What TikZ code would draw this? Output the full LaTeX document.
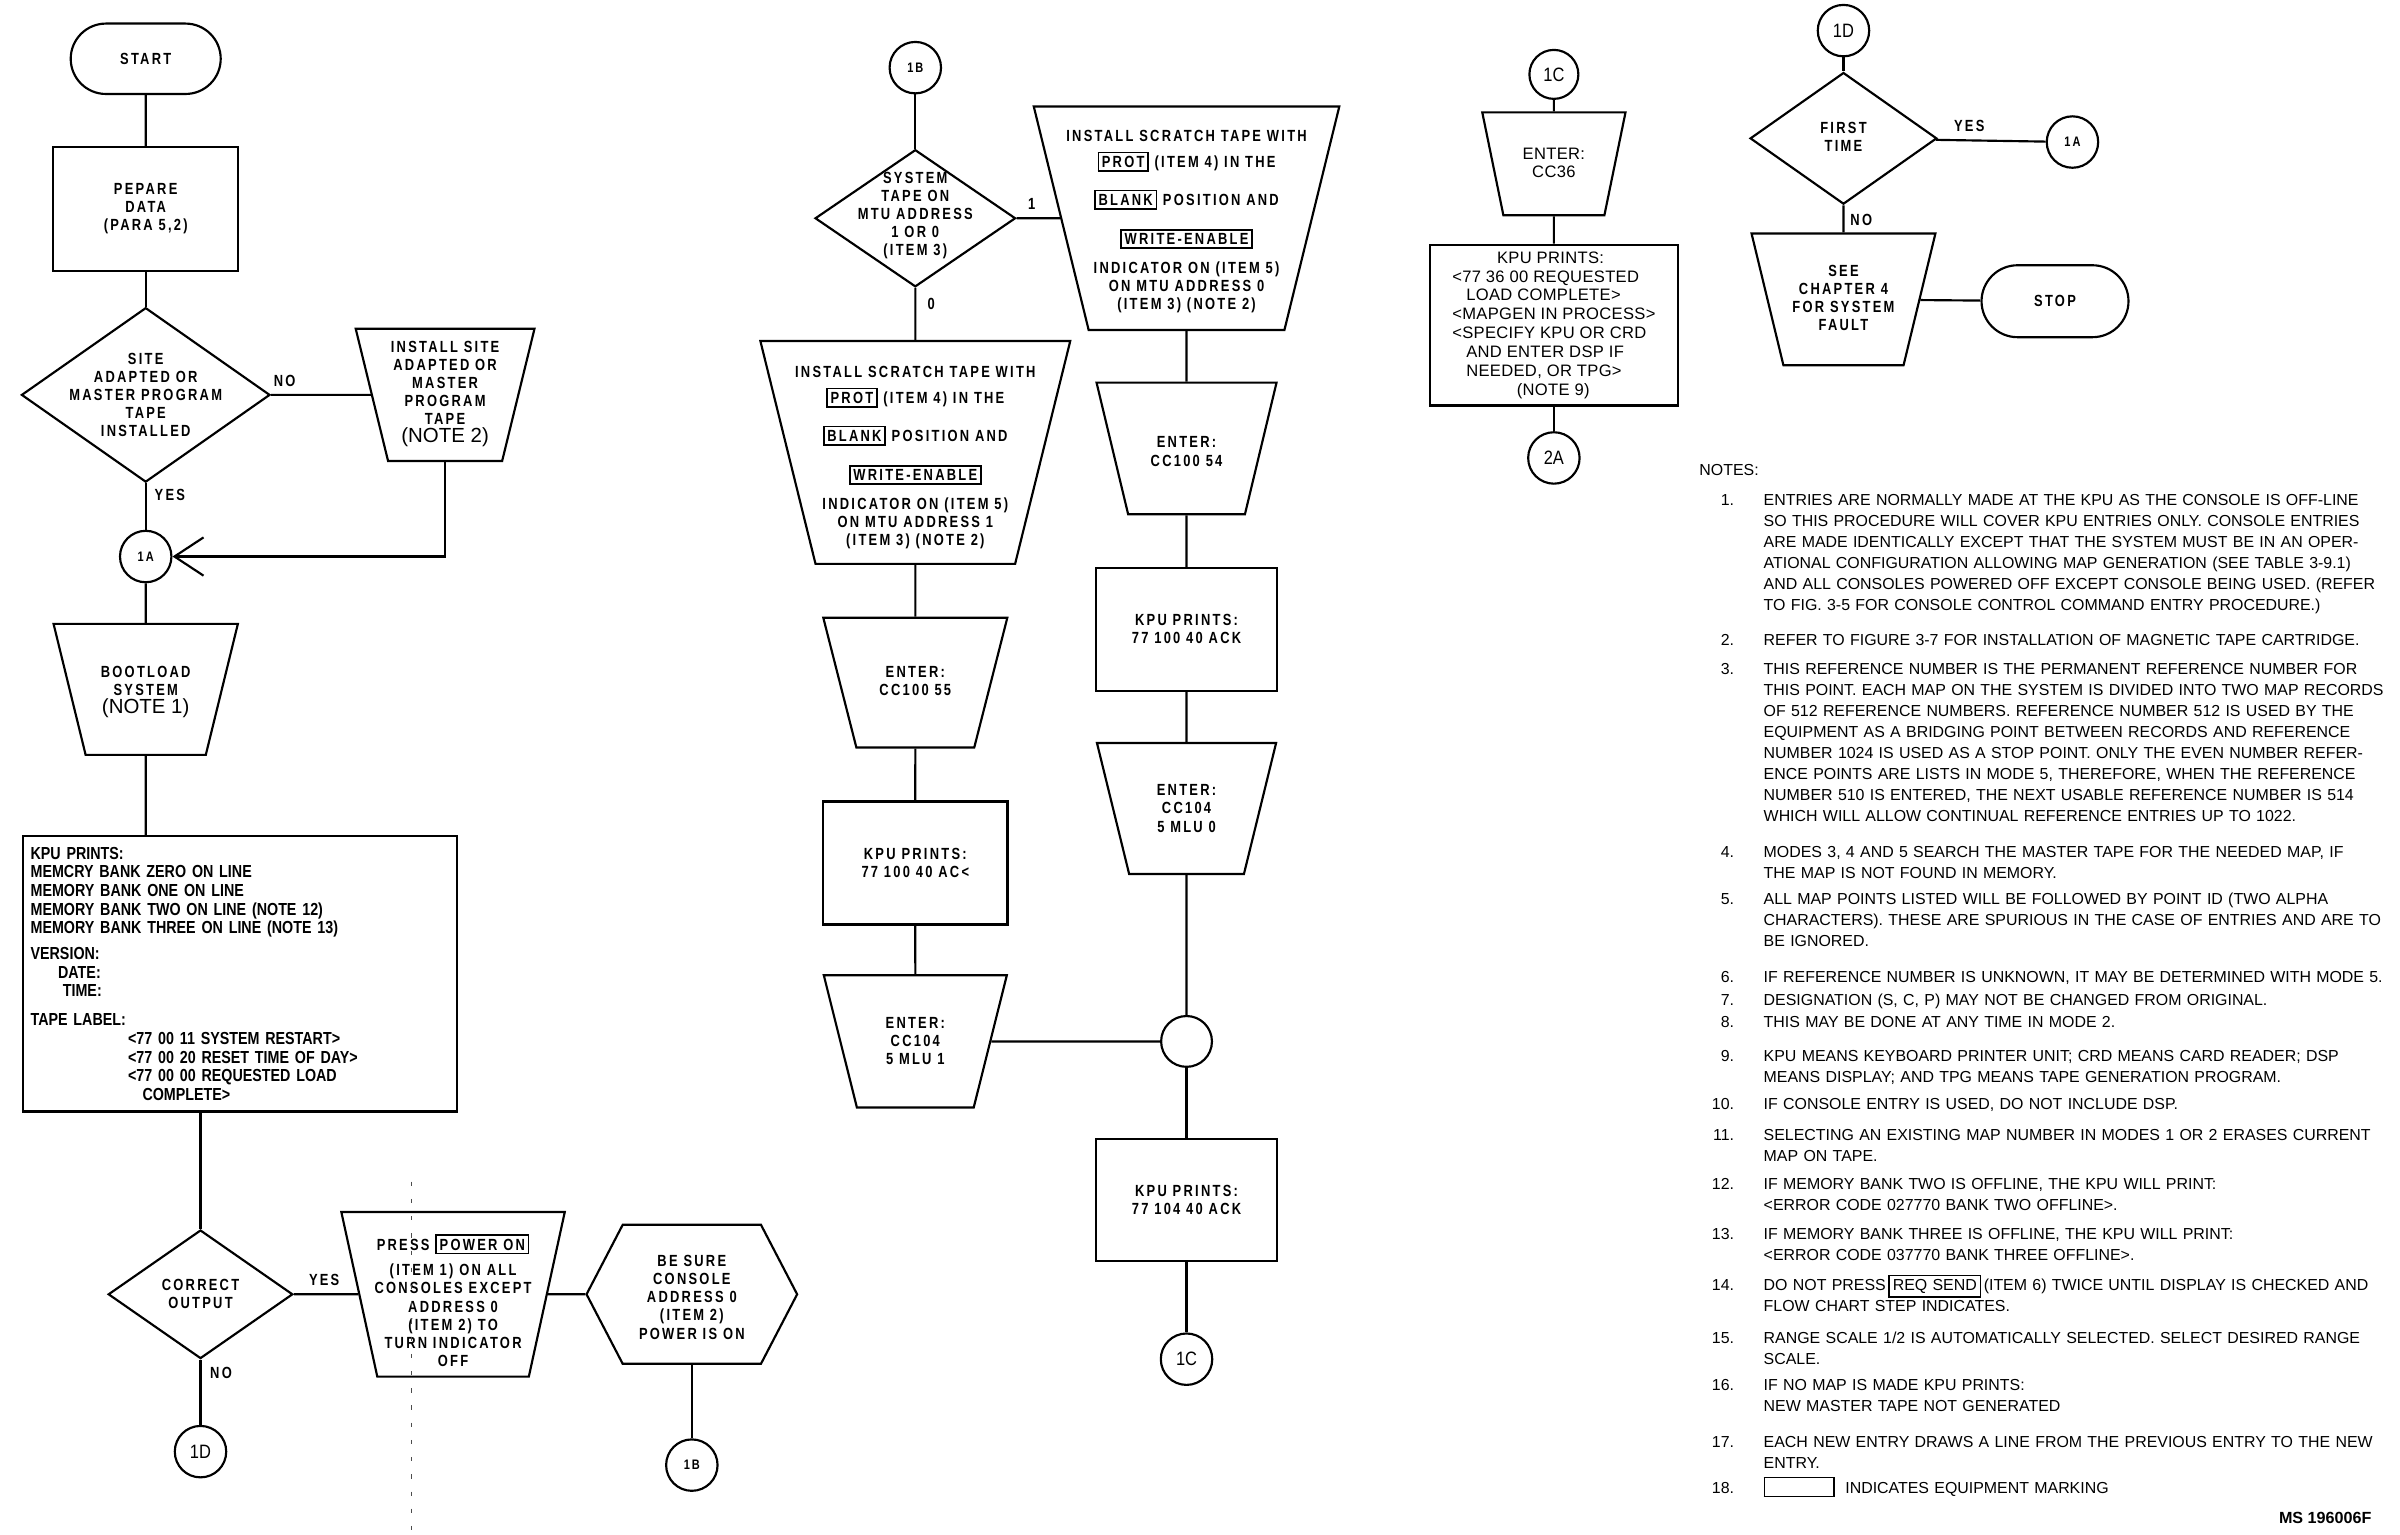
\documentclass[tikz,border=0pt]{standalone}
\usepackage{fontspec}
\setmainfont{Liberation Sans}
\newfontfamily\stencilfont[FakeStretch=0.8,LetterSpace=14]{Liberation Sans}
\newfontfamily\printfont[FakeStretch=0.82]{Liberation Sans}
\newfontfamily\platefont[FakeStretch=0.85]{Liberation Sans}
\newfontfamily\boxfont[LetterSpace=2]{Liberation Sans}
\usetikzlibrary{arrows.meta, positioning, shapes.geometric, shapes.misc, shapes.symbols}
\newcommand{\eqbox}[1]{{\setlength{\fboxsep}{1.3pt}\setlength{\fboxrule}{0.7pt}\fbox{#1}}}
\tikzset{
  chartline/.style={line width=1pt, black},
  chartarrow/.style={chartline, -{Straight Barb[length=4.75mm, width=6.25mm]}},
  crease/.style={line width=0.4pt, black!70, dash pattern=on 2pt off 6pt},
  termbox/.style={rounded rectangle, draw, line width=1pt, inner sep=0pt},
  procbox/.style={rectangle, draw, line width=1pt, inner sep=0pt},
  manbox/.style={trapezium, shape border rotate=180, draw, line width=1pt, inner sep=0pt,
    text depth=0pt},
  decbox/.style={diamond, draw, line width=1pt, inner sep=0pt},
  hexbox/.style={signal, signal to=east and west, draw, line width=1pt, inner sep=0pt},
  connbox/.style={circle, draw, line width=1pt, inner sep=0pt, minimum size=8.4mm},
  chart/.style={font=\stencilfont\bfseries\fontsize{7.5}{8.4}\selectfont, align=center, inner sep=0pt},
  tagtext/.style={font=\stencilfont\bfseries\fontsize{6.4}{7.5}\selectfont, inner sep=0pt},
  platetext/.style={font=\platefont\fontsize{9}{10}\selectfont, inner sep=0pt},
  printtext/.style={font=\printfont\bfseries\fontsize{8.1}{8.68}\selectfont, align=left},
  boxtext/.style={font=\boxfont\fontsize{7.7}{8.75}\selectfont, align=left},
  notehead/.style={font=\fontsize{7.4}{9.75}\selectfont, anchor=base west, inner sep=0pt},
  notenum/.style={font=\fontsize{7.4}{9.75}\selectfont, anchor=base east, inner sep=0pt},
  notetext/.style={font=\fontsize{7.4}{9.75}\selectfont, anchor=base west, inner sep=0pt,
    align=left, text width=12cm},
}
\newcommand{\notebig}{\normalfont\fontsize{9.5}{10}\selectfont}

\begin{document}
\begin{tikzpicture}
  \useasboundingbox (0,0) rectangle (39.2,-25.06);

  \node[termbox, chart, minimum width=2.45cm, minimum height=1.15cm] (start) at (2.38,-0.96) {START};
  \node[procbox, chart, minimum width=3.015cm, minimum height=2.02cm] (prep) at (2.38,-3.41) {PEPARE\\DATA\\(PARA 5,2)};
  \node[decbox, minimum width=4.06cm, minimum height=2.85cm] (site) at (2.38,-6.45) {};
  \node[chart] (sitetxt) at (site) {SITE\\ADAPTED OR\\MASTER PROGRAM\\TAPE\\INSTALLED};
  \node[manbox, trapezium angle=76.25, text width=1.863cm, text height=2.16cm] (inst) at (7.27,-6.45) {};
  \node[chart] (insttxt) at (7.27,-6.44) {INSTALL SITE\\ADAPTED OR\\MASTER\\PROGRAM\\TAPE\\{\notebig (NOTE 2)}};
  \node[connbox, tagtext] (a1) at (2.38,-9.09) {1A};
  \node[manbox, trapezium angle=76.24, text width=1.9625cm, text height=2.14cm] (boot) at (2.38,-11.26) {};
  \node[chart] (boottxt) at (2.38,-11.3) {BOOTLOAD\\SYSTEM\\{\notebig (NOTE 1)}};
  \node[procbox, printtext, minimum width=7.09cm, minimum height=4.5cm, text width=6.83cm,
    inner xsep=0.13cm] (kpuboot) at (3.915,-15.905) {KPU PRINTS:\\
    MEMCRY BANK ZERO ON LINE\\
    MEMORY BANK ONE ON LINE\\
    MEMORY BANK TWO ON LINE (NOTE 12)\\
    MEMORY BANK THREE ON LINE (NOTE 13)\\[3.3pt]
    VERSION:\\
    \hspace*{12.8pt}DATE:\\
    \hspace*{15pt}TIME:\\[4.8pt]
    TAPE LABEL:\\
    \hspace*{45.3pt}<77 00 11 SYSTEM RESTART>\\
    \hspace*{45.3pt}<77 00 20 RESET TIME OF DAY>\\
    \hspace*{45.3pt}<77 00 00 REQUESTED LOAD\\
    \hspace*{52pt}COMPLETE>};
  \node[decbox, minimum width=3.015cm, minimum height=2.1cm] (correct) at (3.275,-21.14) {};
  \node[chart] (correcttxt) at (correct) {CORRECT\\OUTPUT};
  \node[manbox, trapezium angle=77.68, text width=2.475cm, text height=2.69cm] (power) at (7.4,-21.14) {};
  \node[chart] (powertxt) at (7.4,-21.24) {PRESS \eqbox{POWER ON}\\[3.6pt](ITEM 1) ON ALL\\CONSOLES EXCEPT\\ADDRESS 0\\(ITEM 2) TO\\TURN INDICATOR\\OFF};
  \node[hexbox, signal pointer angle=125, minimum width=3.44cm, minimum height=2.27cm] (sure) at (11.3,-21.14) {};
  \node[chart] (suretxt) at (11.3,-21.19) {BE SURE\\CONSOLE\\ADDRESS 0\\(ITEM 2)\\POWER IS ON};
  \node[connbox, tagtext] (b1bot) at (11.3,-23.93) {1B};
  \node[connbox, platetext] (d1bot) at (3.275,-23.71) {1D};

  \node[chart] (no1) at (4.65,-6.215) {NO};
  \node[chart] (yes1) at (2.775,-8.09) {YES};
  \node[chart] (yes2) at (5.295,-20.905) {YES};
  \node[chart] (no2) at (3.61,-22.43) {NO};

  \node[connbox, tagtext] (b1top) at (14.95,-1.105) {1B};
  \node[decbox, minimum width=3.275cm, minimum height=2.24cm] (systape) at (14.95,-3.565) {};
  \node[chart] (systapetxt) at (14.95,-3.52) {SYSTEM\\TAPE ON\\MTU ADDRESS\\1 OR 0\\(ITEM 3)};
  \node[manbox, trapezium angle=76.2, text width=3.1975cm, text height=3.65cm] (scratch0) at (19.38,-3.565) {};
  \node[chart] (scratch0txt) at (19.38,-3.62) {INSTALL SCRATCH TAPE WITH\\[3.6pt]
    \eqbox{PROT} (ITEM 4) IN THE\\[7.3pt]\eqbox{BLANK} POSITION AND\\[8.1pt]
    \eqbox{WRITE-ENABLE}\\[5pt]INDICATOR ON (ITEM 5)\\ON MTU ADDRESS 0\\(ITEM 3) (NOTE 2)};
  \node[manbox, trapezium angle=76.1, text width=3.26cm, text height=3.64cm] (scratch1) at (14.95,-7.39) {};
  \node[chart] (scratch1txt) at (14.95,-7.475) {INSTALL SCRATCH TAPE WITH\\[3.6pt]
    \eqbox{PROT} (ITEM 4) IN THE\\[7.3pt]\eqbox{BLANK} POSITION AND\\[8.1pt]
    \eqbox{WRITE-ENABLE}\\[5pt]INDICATOR ON (ITEM 5)\\ON MTU ADDRESS 1\\(ITEM 3) (NOTE 2)};
  \node[manbox, trapezium angle=75.7, text width=1.925cm, text height=2.12cm] (enter55) at (14.95,-11.15) {};
  \node[chart] (enter55txt) at (14.95,-11.13) {ENTER:\\CC100 55};
  \node[procbox, chart, minimum width=3.01cm, minimum height=2.01cm] (prints55) at (14.95,-14.095) {KPU PRINTS:\\77 100 40 AC<};
  \node[manbox, trapezium angle=75.94, text width=1.9075cm, text height=2.16cm] (mlu1) at (14.95,-17.01) {};
  \node[chart] (mlu1txt) at (14.95,-17.0) {ENTER:\\CC104\\5 MLU 1};
  \node[manbox, trapezium angle=76.5, text width=1.9075cm, text height=2.15cm] (enter54) at (19.38,-7.325) {};
  \node[chart] (enter54txt) at (19.38,-7.375) {ENTER:\\CC100 54};
  \node[procbox, chart, minimum width=2.96cm, minimum height=2cm] (prints54) at (19.38,-10.28) {KPU PRINTS:\\77 100 40 ACK};
  \node[manbox, trapezium angle=76.2, text width=1.875cm, text height=2.14cm] (mlu0) at (19.38,-13.205) {};
  \node[chart] (mlu0txt) at (mlu0) {ENTER:\\CC104\\5 MLU 0};
  \node[connbox, minimum size=8.3mm] (junction) at (19.38,-17.01) {};
  \node[procbox, chart, minimum width=2.96cm, minimum height=2cm] (prints104) at (19.38,-19.6) {KPU PRINTS:\\77 104 40 ACK};
  \node[connbox, platetext] (c1bot) at (19.38,-22.2) {1C};

  \node[chart] (one) at (16.85,-3.325) {1};
  \node[chart] (zero) at (15.21,-4.96) {0};

  \node[connbox, platetext, minimum size=8mm] (c1top) at (25.38,-1.215) {1C};
  \node[manbox, trapezium angle=78.4, text width=1.65cm, text height=1.68cm] (cc36) at (25.38,-2.675) {};
  \node[boxtext, align=center, inner sep=0pt] (cc36txt) at (25.38,-2.66) {ENTER:\\CC36};
  \node[procbox, boxtext, minimum width=4.045cm, minimum height=2.625cm] (kpu36) at (25.38,-5.31) {\hspace*{20.8pt}KPU PRINTS:\\
    <77 36 00 REQUESTED\\
    \hspace*{6.5pt}LOAD COMPLETE>\\
    <MAPGEN IN PROCESS>\\
    <SPECIFY KPU OR CRD\\
    \hspace*{6.5pt}AND ENTER DSP IF\\
    \hspace*{6.5pt}NEEDED, OR TPG>\\
    \hspace*{30pt}(NOTE 9)};
  \node[connbox, platetext] (a2) at (25.38,-7.48) {2A};

  \node[connbox, platetext] (d1top) at (30.11,-0.5) {1D};
  \node[decbox, minimum width=3.05cm, minimum height=2.15cm] (first) at (30.11,-2.26) {};
  \node[chart] (firsttxt) at (30.11,-2.235) {FIRST\\TIME};
  \node[connbox, tagtext] (a1right) at (33.85,-2.32) {1A};
  \node[manbox, trapezium angle=76.4, text width=1.9625cm, text height=2.15cm] (seech) at (30.11,-4.89) {};
  \node[chart] (seechtxt) at (30.11,-4.865) {SEE\\CHAPTER 4\\FOR SYSTEM\\FAULT};
  \node[termbox, chart, minimum width=2.4cm, minimum height=1.175cm] (stop) at (33.565,-4.92) {STOP};
  \node[chart] (yes3) at (32.165,-2.055) {YES};
  \node[chart] (no3) at (30.4,-3.6) {NO};

  \draw[chartline] (start) -- (prep);
  \draw[chartline] (prep) -- (site);
  \draw[chartline] (site) -- (inst);
  \draw[chartarrow] (inst) |- (a1);
  \draw[chartline] (site) -- (a1);
  \draw[chartline] (a1) -- (boot);
  \draw[chartline] (boot) -- (boot |- kpuboot.north);
  \draw[chartline] (correct |- kpuboot.south) -- (correct);
  \draw[chartline] (correct) -- (power);
  \draw[chartline] (power) -- (sure);
  \draw[chartline] (sure) -- (b1bot);
  \draw[chartline] (correct) -- (d1bot);
  \draw[crease] (6.72,-19.3) -- (6.72,-25.06);

  \draw[chartline] (b1top) -- (systape);
  \draw[chartline] (systape) -- (scratch0);
  \draw[chartline] (systape) -- (scratch1);
  \draw[chartline] (scratch1) -- (enter55);
  \draw[chartline] (enter55) -- (prints55);
  \draw[chartline] (prints55) -- (mlu1);
  \draw[chartline] (mlu1) -- (junction);
  \draw[chartline] (scratch0) -- (enter54);
  \draw[chartline] (enter54) -- (prints54);
  \draw[chartline] (prints54) -- (mlu0);
  \draw[chartline] (mlu0) -- (junction);
  \draw[chartline] (junction) -- (prints104);
  \draw[chartline] (prints104) -- (c1bot);

  \draw[chartline] (c1top) -- (cc36);
  \draw[chartline] (cc36) -- (kpu36);
  \draw[chartline] (kpu36) -- (a2);
  \draw[chartline] (d1top) -- (first);
  \draw[chartline] (first) -- (a1right);
  \draw[chartline] (first) -- (seech);
  \draw[chartline] (seech) -- (stop);

  \node[notehead] (notes) at (27.75,-7.76) {NOTES:};
  \node[notenum] (n1) at (28.33,-8.2625) {1.};
  \node[notetext] (t1) at (28.8,-8.2625) {ENTRIES ARE NORMALLY MADE AT THE KPU AS THE CONSOLE IS OFF-LINE\\
    SO THIS PROCEDURE WILL COVER KPU ENTRIES ONLY. CONSOLE ENTRIES\\
    ARE MADE IDENTICALLY EXCEPT THAT THE SYSTEM MUST BE IN AN OPER-\\
    ATIONAL CONFIGURATION ALLOWING MAP GENERATION (SEE TABLE 3-9.1)\\
    AND ALL CONSOLES POWERED OFF EXCEPT CONSOLE BEING USED. (REFER\\
    TO FIG. 3-5 FOR CONSOLE CONTROL COMMAND ENTRY PROCEDURE.)};
  \node[notenum] (n2) at (28.33,-10.545) {2.};
  \node[notetext] (t2) at (28.8,-10.545) {REFER TO FIGURE 3-7 FOR INSTALLATION OF MAGNETIC TAPE CARTRIDGE.};
  \node[notenum] (n3) at (28.33,-11.0175) {3.};
  \node[notetext] (t3) at (28.8,-11.0175) {THIS REFERENCE NUMBER IS THE PERMANENT REFERENCE NUMBER FOR\\
    THIS POINT. EACH MAP ON THE SYSTEM IS DIVIDED INTO TWO MAP RECORDS\\
    OF 512 REFERENCE NUMBERS. REFERENCE NUMBER 512 IS USED BY THE\\
    EQUIPMENT AS A BRIDGING POINT BETWEEN RECORDS AND REFERENCE\\
    NUMBER 1024 IS USED AS A STOP POINT. ONLY THE EVEN NUMBER REFER-\\
    ENCE POINTS ARE LISTS IN MODE 5, THEREFORE, WHEN THE REFERENCE\\
    NUMBER 510 IS ENTERED, THE NEXT USABLE REFERENCE NUMBER IS 514\\
    WHICH WILL ALLOW CONTINUAL REFERENCE ENTRIES UP TO 1022.};
  \node[notenum] (n4) at (28.33,-14.01) {4.};
  \node[notetext] (t4) at (28.8,-14.01) {MODES 3, 4 AND 5 SEARCH THE MASTER TAPE FOR THE NEEDED MAP, IF\\
    THE MAP IS NOT FOUND IN MEMORY.};
  \node[notenum] (n5) at (28.33,-14.78) {5.};
  \node[notetext] (t5) at (28.8,-14.78) {ALL MAP POINTS LISTED WILL BE FOLLOWED BY POINT ID (TWO ALPHA\\
    CHARACTERS). THESE ARE SPURIOUS IN THE CASE OF ENTRIES AND ARE TO\\
    BE IGNORED.};
  \node[notenum] (n6) at (28.33,-16.0525) {6.};
  \node[notetext] (t6) at (28.8,-16.0525) {IF REFERENCE NUMBER IS UNKNOWN, IT MAY BE DETERMINED WITH MODE 5.};
  \node[notenum] (n7) at (28.33,-16.425) {7.};
  \node[notetext] (t7) at (28.8,-16.425) {DESIGNATION (S, C, P) MAY NOT BE CHANGED FROM ORIGINAL.};
  \node[notenum] (n8) at (28.33,-16.7875) {8.};
  \node[notetext] (t8) at (28.8,-16.7875) {THIS MAY BE DONE AT ANY TIME IN MODE 2.};
  \node[notenum] (n9) at (28.33,-17.345) {9.};
  \node[notetext] (t9) at (28.8,-17.345) {KPU MEANS KEYBOARD PRINTER UNIT; CRD MEANS CARD READER; DSP\\
    MEANS DISPLAY; AND TPG MEANS TAPE GENERATION PROGRAM.};
  \node[notenum] (n10) at (28.33,-18.125) {10.};
  \node[notetext] (t10) at (28.8,-18.125) {IF CONSOLE ENTRY IS USED, DO NOT INCLUDE DSP.};
  \node[notenum] (n11) at (28.33,-18.625) {11.};
  \node[notetext] (t11) at (28.8,-18.625) {SELECTING AN EXISTING MAP NUMBER IN MODES 1 OR 2 ERASES CURRENT\\
    MAP ON TAPE.};
  \node[notenum] (n12) at (28.33,-19.4325) {12.};
  \node[notetext] (t12) at (28.8,-19.4325) {IF MEMORY BANK TWO IS OFFLINE, THE KPU WILL PRINT:\\
    <ERROR CODE 027770 BANK TWO OFFLINE>.};
  \node[notenum] (n13) at (28.33,-20.24) {13.};
  \node[notetext] (t13) at (28.8,-20.24) {IF MEMORY BANK THREE IS OFFLINE, THE KPU WILL PRINT:\\
    <ERROR CODE 037770 BANK THREE OFFLINE>.};
  \node[notenum] (n14) at (28.33,-21.075) {14.};
  \node[notetext] (t14) at (28.8,-21.075) {DO NOT PRESS\,\eqbox{REQ SEND}\,(ITEM 6) TWICE UNTIL DISPLAY IS CHECKED AND\\
    FLOW CHART STEP INDICATES.};
  \node[notenum] (n15) at (28.33,-21.9375) {15.};
  \node[notetext] (t15) at (28.8,-21.9375) {RANGE SCALE 1/2 IS AUTOMATICALLY SELECTED. SELECT DESIRED RANGE\\
    SCALE.};
  \node[notenum] (n16) at (28.33,-22.7175) {16.};
  \node[notetext] (t16) at (28.8,-22.7175) {IF NO MAP IS MADE KPU PRINTS:\\
    NEW MASTER TAPE NOT GENERATED};
  \node[notenum] (n17) at (28.33,-23.6375) {17.};
  \node[notetext] (t17) at (28.8,-23.6375) {EACH NEW ENTRY DRAWS A LINE FROM THE PREVIOUS ENTRY TO THE NEW\\
    ENTRY.};
  \node[notenum] (n18) at (28.33,-24.3875) {18.};
  \node[notetext] (t18) at (28.8,-24.3875) {\eqbox{\rule{0pt}{5.5pt}\hspace{29pt}}\ \ INDICATES EQUIPMENT MARKING};
  \node[font=\bfseries\fontsize{7.5}{9}\selectfont, anchor=base east, inner sep=0pt] (msno) at (38.74,-24.89) {MS 196006F};
\end{tikzpicture}
\end{document}
